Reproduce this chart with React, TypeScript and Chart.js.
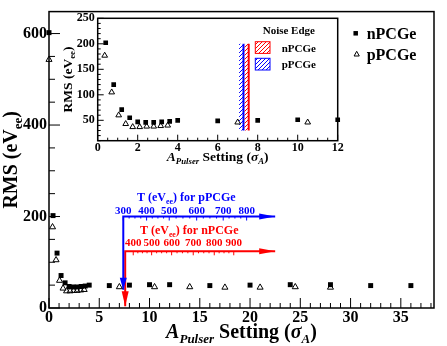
import React, { useEffect, useRef } from 'react';
import { Chart, registerables } from 'chart.js';

Chart.register(...registerables);

const W = 447;
const H = 346;
const SERIF = '"Liberation Serif", "Times New Roman", serif';
const BLUE = '#0000ff';
const RED = '#ff0000';

// ---- data ----
const nPCGeX = [0, 0.4, 0.8, 1.2, 1.6, 2.0, 2.4, 2.8, 3.2, 3.6, 4.0, 6, 8, 10, 12, 16, 20, 24, 28, 32, 36];
const nPCGeY = [602, 202, 120, 71, 55, 47, 46, 46, 47, 48, 50, 49, 50, 51, 51, 49, 50, 51, 51, 49, 49];
const pPCGeX = [0, 0.35, 0.7, 1.05, 1.4, 1.75, 2.1, 2.45, 2.8, 3.15, 3.5, 7.0, 10.5, 14, 17.5, 21, 24.5, 28];
const pPCGeY = [543, 177, 105, 60, 43, 37, 37, 38, 38, 39, 40, 46, 46, 46, 45, 45, 46, 45];

const mainXTicks = [0, 5, 10, 15, 20, 25, 30, 35];
const mainYTicks = [0, 200, 400, 600];
const insetXTicks = [0, 2, 4, 6, 8, 10, 12];
const insetYTicks = [50, 100, 150, 200, 250];

// threshold arrows (pulser setting -> threshold energy)
const pArrowX = 7.39;
const pArrowTop = 200;
const pArrowTip = 40;
const pArrowEnd = 22.5;
const nArrowX = 7.58;
const nArrowTop = 124;
const nArrowTip = 4;
const nArrowEnd = 22.5;
const pThrLabels = ['300', '400', '500', '600', '700', '800'];
const pThrPos = [7.39, 9.71, 11.96, 14.69, 17.33, 19.66];
const nThrLabels = ['400', '500', '600', '700', '800', '900'];
const nThrPos = [8.38, 10.21, 12.2, 14.35, 16.44, 18.38];

// noise edges (inset)
const pNoiseEdge = [7.07, 7.29];
const nNoiseEdge = [7.34, 7.55];
const noiseEdgeY = [30, 200];

// ---- helpers ----
type Seg = { t: string; sub?: boolean; it?: boolean };

function fnt(size: number, it?: boolean) {
  return `${it ? 'italic ' : ''}bold ${size}px ${SERIF}`;
}

function drawRich(
  ctx: CanvasRenderingContext2D,
  segs: Seg[],
  x: number,
  y: number,
  size: number,
  color: string,
  rot = 0,
  align: 'center' | 'left' = 'center'
) {
  ctx.save();
  ctx.translate(x, y);
  ctx.rotate(rot);
  let w = 0;
  for (const s of segs) {
    ctx.font = fnt(s.sub ? size * 0.65 : size, s.it);
    w += ctx.measureText(s.t).width;
  }
  let cx = align === 'center' ? -w / 2 : 0;
  ctx.textAlign = 'left';
  ctx.textBaseline = 'alphabetic';
  ctx.fillStyle = color;
  for (const s of segs) {
    const sz = s.sub ? size * 0.65 : size;
    ctx.font = fnt(sz, s.it);
    ctx.fillText(s.t, cx, s.sub ? size * 0.25 : 0);
    cx += ctx.measureText(s.t).width;
  }
  ctx.restore();
}

function hatchPattern(ctx: CanvasRenderingContext2D, color: string) {
  const c = document.createElement('canvas');
  c.width = 4;
  c.height = 4;
  const g = c.getContext('2d')!;
  g.strokeStyle = color;
  g.lineWidth = 1;
  g.beginPath();
  g.moveTo(0, 4);
  g.lineTo(4, 0);
  g.moveTo(-1, 1);
  g.lineTo(1, -1);
  g.moveTo(3, 5);
  g.lineTo(5, 3);
  g.stroke();
  return ctx.createPattern(c, 'repeat')!;
}

function arrowHead(
  ctx: CanvasRenderingContext2D,
  tipX: number,
  tipY: number,
  dir: 'down' | 'right',
  color: string,
  len = 15,
  half = 3.5
) {
  ctx.fillStyle = color;
  ctx.beginPath();
  if (dir === 'down') {
    ctx.moveTo(tipX, tipY);
    ctx.lineTo(tipX - half, tipY - len);
    ctx.lineTo(tipX + half, tipY - len);
  } else {
    ctx.moveTo(tipX, tipY);
    ctx.lineTo(tipX - len, tipY - half);
    ctx.lineTo(tipX - len, tipY + half);
  }
  ctx.closePath();
  ctx.fill();
}

function drawAxisScale(
  ctx: CanvasRenderingContext2D,
  xs: any,
  py: number,
  pos: number[],
  labels: string[],
  color: string,
  labelGap: number
) {
  ctx.strokeStyle = color;
  ctx.lineWidth = 1;
  ctx.beginPath();
  for (let i = 0; i < pos.length; i++) {
    const px = xs.getPixelForValue(pos[i]);
    ctx.moveTo(px, py);
    ctx.lineTo(px, py + 4);
    if (i < pos.length - 1) {
      const nx = xs.getPixelForValue(pos[i + 1]);
      for (let k = 1; k < 4; k++) {
        const mx = px + ((nx - px) * k) / 4;
        ctx.moveTo(mx, py);
        ctx.lineTo(mx, py + 2);
      }
    }
  }
  ctx.stroke();
  ctx.fillStyle = color;
  ctx.font = fnt(11);
  ctx.textAlign = 'center';
  ctx.textBaseline = 'alphabetic';
  for (let i = 0; i < pos.length; i++) {
    ctx.fillText(labels[i], xs.getPixelForValue(pos[i]), py - labelGap);
  }
}

const toPts = (xs: number[], ys: number[]) => xs.map((x, i) => ({ x, y: ys[i] }));

const xTitle: Seg[] = [
  { t: 'A', it: true },
  { t: 'Pulser', sub: true, it: true },
  { t: ' Setting (' },
  { t: 'σ', it: true },
  { t: 'A', sub: true, it: true },
  { t: ')' },
];
const yTitle: Seg[] = [{ t: 'RMS (eV' }, { t: 'ee', sub: true }, { t: ')' }];

const mainPlugin = {
  id: 'mainDecor',
  afterDraw(chart: any) {
    const ctx: CanvasRenderingContext2D = chart.ctx;
    const ca = chart.chartArea;
    const xs = chart.scales.x;
    const ys = chart.scales.y;
    ctx.save();
    // frame
    ctx.strokeStyle = '#000';
    ctx.lineWidth = 1.5;
    ctx.strokeRect(ca.left, ca.top, ca.right - ca.left, ca.bottom - ca.top);
    // inward ticks
    ctx.lineWidth = 1;
    ctx.beginPath();
    for (let v = 0; v <= 38; v += 1) {
      const px = xs.getPixelForValue(v);
      const len = v % 5 === 0 ? 10 : 5;
      ctx.moveTo(px, ca.bottom);
      ctx.lineTo(px, ca.bottom - len);
    }
    for (let v = 0; v <= 640; v += 50) {
      const py = ys.getPixelForValue(v);
      const len = v % 200 === 0 ? 11 : 6;
      ctx.moveTo(ca.left, py);
      ctx.lineTo(ca.left + len, py);
    }
    ctx.stroke();

    // arrow heads
    const bx = xs.getPixelForValue(pArrowX);
    const by = ys.getPixelForValue(pArrowTop);
    const rx = xs.getPixelForValue(nArrowX);
    const ry = ys.getPixelForValue(nArrowTop);
    arrowHead(ctx, bx, ys.getPixelForValue(pArrowTip), 'down', BLUE, 12, 3.5);
    arrowHead(ctx, xs.getPixelForValue(pArrowEnd), by, 'right', BLUE, 16, 3);
    arrowHead(ctx, rx, ys.getPixelForValue(nArrowTip), 'down', RED, 15, 3.5);
    arrowHead(ctx, xs.getPixelForValue(nArrowEnd), ry, 'right', RED, 16, 3);

    // threshold scales
    drawAxisScale(ctx, xs, by, pThrPos, pThrLabels, BLUE, 3);
    drawAxisScale(ctx, xs, ry, nThrPos, nThrLabels, RED, 5);
    drawRich(ctx, [{ t: 'T (eV' }, { t: 'ee', sub: true }, { t: ') for pPCGe' }], bx + 63, by - 16, 12, BLUE);
    drawRich(ctx, [{ t: 'T (eV' }, { t: 'ee', sub: true }, { t: ') for nPCGe' }], rx + 64, ry - 17, 12, RED);

    // axis titles
    drawRich(ctx, xTitle, (ca.left + ca.right) / 2, 338, 20, '#000');
    drawRich(ctx, yTitle, 17, (ca.top + ca.bottom) / 2, 20, '#000', -Math.PI / 2);

    // legend
    ctx.fillStyle = '#000';
    ctx.fillRect(355.7 - 2.25, 33.3 - 2.25, 4.5, 4.5);
    ctx.strokeStyle = '#000';
    ctx.lineWidth = 1;
    ctx.beginPath();
    ctx.moveTo(356.7, 51.3);
    ctx.lineTo(359.3, 56);
    ctx.lineTo(354.1, 56);
    ctx.closePath();
    ctx.stroke();
    ctx.font = fnt(16);
    ctx.textAlign = 'left';
    ctx.textBaseline = 'alphabetic';
    ctx.fillText('nPCGe', 366.7, 39);
    ctx.fillText('pPCGe', 366.7, 60);
    ctx.restore();
  },
};

const insetPlugin = {
  id: 'insetDecor',
  beforeDatasetsDraw(chart: any) {
    const ctx: CanvasRenderingContext2D = chart.ctx;
    const xs = chart.scales.x;
    const ys = chart.scales.y;
    const y0 = ys.getPixelForValue(noiseEdgeY[1]);
    const y1 = ys.getPixelForValue(noiseEdgeY[0]);
    ctx.save();
    const bands: [number[], string][] = [
      [pNoiseEdge, BLUE],
      [nNoiseEdge, RED],
    ];
    for (const [edge, color] of bands) {
      const a = xs.getPixelForValue(edge[0]);
      const b = xs.getPixelForValue(edge[1]);
      ctx.fillStyle = hatchPattern(ctx, color);
      ctx.fillRect(a, y0, b - a, y1 - y0);
      ctx.strokeStyle = color;
      ctx.lineWidth = 2;
      ctx.beginPath();
      ctx.moveTo(b, y0);
      ctx.lineTo(b, y1);
      ctx.stroke();
    }
    ctx.restore();
  },
  afterDraw(chart: any) {
    const ctx: CanvasRenderingContext2D = chart.ctx;
    const ca = chart.chartArea;
    const xs = chart.scales.x;
    const ys = chart.scales.y;
    ctx.save();
    ctx.strokeStyle = '#000';
    ctx.lineWidth = 1.5;
    ctx.strokeRect(ca.left, ca.top, ca.right - ca.left, ca.bottom - ca.top);
    ctx.lineWidth = 1;
    ctx.beginPath();
    for (let i = 0; i <= 24; i++) {
      const v = i * 0.5;
      const px = xs.getPixelForValue(v);
      const len = i % 4 === 0 ? 6 : 3;
      ctx.moveTo(px, ca.bottom);
      ctx.lineTo(px, ca.bottom - len);
    }
    for (let v = 10; v <= 250; v += 10) {
      const py = ys.getPixelForValue(v);
      const len = v % 50 === 0 ? 6 : 3;
      ctx.moveTo(ca.left, py);
      ctx.lineTo(ca.left + len, py);
    }
    ctx.stroke();

    drawRich(ctx, xTitle, (ca.left + ca.right) / 2, 160.7, 13.5, '#000');
    drawRich(ctx, yTitle, 72, (ca.top + ca.bottom) / 2, 13.5, '#000', -Math.PI / 2);

    // noise edge legend
    ctx.fillStyle = '#000';
    ctx.font = fnt(11);
    ctx.textAlign = 'left';
    ctx.textBaseline = 'alphabetic';
    ctx.fillText('Noise Edge', 262.7, 34);
    ctx.fillText('nPCGe', 281.7, 51.7);
    ctx.fillText('pPCGe', 281.7, 68.3);
    const boxes: [number, string][] = [
      [41.7, RED],
      [58.3, BLUE],
    ];
    for (const [by, color] of boxes) {
      ctx.fillStyle = hatchPattern(ctx, color);
      ctx.fillRect(255.3, by, 14.7, 11.7);
      ctx.strokeStyle = color;
      ctx.lineWidth = 1;
      ctx.strokeRect(255.3, by, 14.7, 11.7);
    }
    ctx.restore();
  },
};

function scatterSets(r: number, clip: any) {
  return [
    {
      label: 'nPCGe',
      data: toPts(nPCGeX, nPCGeY),
      pointStyle: 'rect',
      pointRadius: r,
      backgroundColor: '#000',
      borderColor: '#000',
      borderWidth: 0,
      clip,
    },
    {
      label: 'pPCGe',
      data: toPts(pPCGeX, pPCGeY),
      pointStyle: 'triangle',
      pointRadius: r,
      backgroundColor: 'rgba(0,0,0,0)',
      borderColor: '#000',
      borderWidth: 1,
      clip,
    },
  ];
}

export default function App() {
  const mainRef = useRef<HTMLCanvasElement>(null);
  const insetRef = useRef<HTMLCanvasElement>(null);

  useEffect(() => {
    const mainFont = { family: SERIF, size: 16, weight: 'bold' as const };
    const insetFont = { family: SERIF, size: 12, weight: 'bold' as const };

    const main = new Chart(mainRef.current!, {
      type: 'scatter',
      data: {
        datasets: [
          ...(scatterSets(3.5, false) as any[]),
          {
            type: 'line',
            data: [
              { x: pArrowEnd, y: pArrowTop },
              { x: pArrowX, y: pArrowTop },
              { x: pArrowX, y: pArrowTip },
            ],
            borderColor: BLUE,
            borderWidth: 2,
            pointRadius: 0,
            showLine: true,
            fill: false,
          },
          {
            type: 'line',
            data: [
              { x: nArrowEnd, y: nArrowTop },
              { x: nArrowX, y: nArrowTop },
              { x: nArrowX, y: nArrowTip },
            ],
            borderColor: RED,
            borderWidth: 2,
            pointRadius: 0,
            showLine: true,
            fill: false,
          },
        ] as any,
      },
      options: {
        responsive: false,
        animation: false,
        devicePixelRatio: 1,
        events: [],
        layout: { padding: { left: 0, top: 10, right: 13, bottom: 0 } },
        plugins: { legend: { display: false }, tooltip: { enabled: false } },
        scales: {
          x: {
            type: 'linear',
            min: 0,
            max: 38.3,
            grid: { display: false, drawTicks: false },
            border: { display: false },
            ticks: { font: mainFont, color: '#000', padding: 0, maxRotation: 0, autoSkip: false },
            afterBuildTicks: (s: any) => {
              s.ticks = mainXTicks.map((v) => ({ value: v }));
            },
            afterFit: (s: any) => {
              s.height = 38;
            },
          },
          y: {
            type: 'linear',
            min: 0,
            max: 648,
            grid: { display: false, drawTicks: false },
            border: { display: false },
            ticks: { font: mainFont, color: '#000', padding: 2, autoSkip: false },
            afterBuildTicks: (s: any) => {
              s.ticks = mainYTicks.map((v) => ({ value: v }));
            },
            afterFit: (s: any) => {
              s.width = 49;
            },
          },
        },
      } as any,
      plugins: [mainPlugin],
    });

    const inset = new Chart(insetRef.current!, {
      type: 'scatter',
      data: { datasets: scatterSets(3.3, 5) as any },
      options: {
        responsive: false,
        animation: false,
        devicePixelRatio: 1,
        events: [],
        layout: { padding: { left: 0, top: 18.3, right: 109.3, bottom: 0 } },
        plugins: { legend: { display: false }, tooltip: { enabled: false } },
        scales: {
          x: {
            type: 'linear',
            min: 0,
            max: 12,
            grid: { display: false, drawTicks: false },
            border: { display: false },
            ticks: { font: insetFont, color: '#000', padding: 0, maxRotation: 0, autoSkip: false },
            afterBuildTicks: (s: any) => {
              s.ticks = insetXTicks.map((v) => ({ value: v }));
            },
            afterFit: (s: any) => {
              s.height = 205.3;
            },
          },
          y: {
            type: 'linear',
            min: 10,
            max: 250,
            grid: { display: false, drawTicks: false },
            border: { display: false },
            ticks: { font: insetFont, color: '#000', padding: 3, autoSkip: false },
            afterBuildTicks: (s: any) => {
              s.ticks = insetYTicks.map((v) => ({ value: v }));
            },
            afterFit: (s: any) => {
              s.width = 97.7;
            },
          },
        },
      } as any,
      plugins: [insetPlugin],
    });

    return () => {
      main.destroy();
      inset.destroy();
    };
  }, []);

  const cs: React.CSSProperties = { position: 'absolute', left: 0, top: 0, width: W, height: H };
  return (
    <div style={{ position: 'absolute', left: 0, top: 0, width: W, height: H, background: '#fff' }}>
      <canvas ref={mainRef} width={W} height={H} style={cs} />
      <canvas ref={insetRef} width={W} height={H} style={{ ...cs, pointerEvents: 'none' }} />
    </div>
  );
}
